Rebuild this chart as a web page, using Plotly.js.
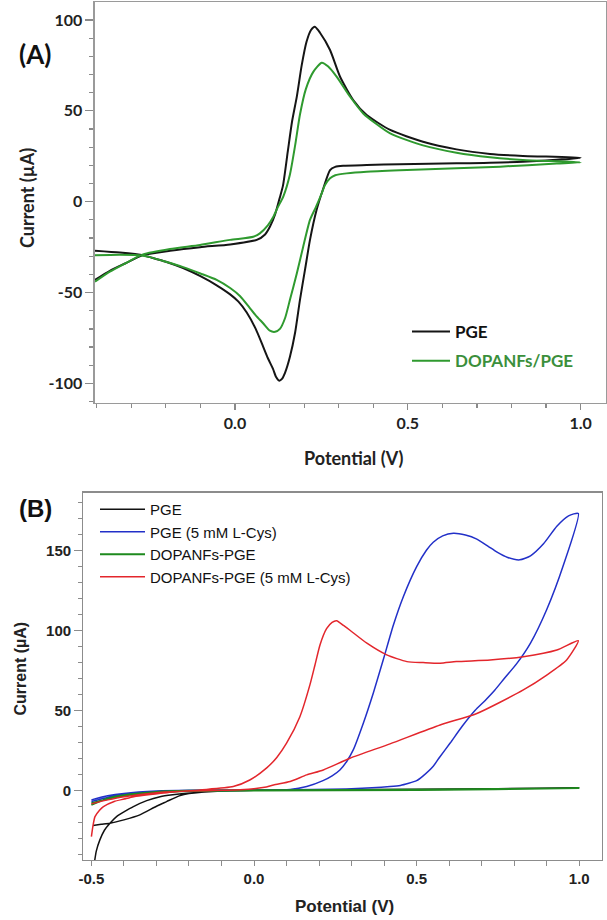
<!DOCTYPE html>
<html>
<head>
<meta charset="utf-8">
<script src="https://cdn.plot.ly/plotly-3.0.1.min.js"></script>
<style>
html,body{margin:0;padding:0;background:#fff;}
#chart{width:607px;height:920px;}
</style>
</head>
<body>
<div id="chart"></div>
<script>
// ---------- Panel A data (cyclic voltammograms) ----------
const A_PGE_x = [-0.405,-0.362,-0.318,-0.266,-0.188,-0.101,-0.014,0.063,0.087,0.101,0.116,0.130,0.139,0.153,0.165,0.179,0.193,0.207,0.220,0.231,0.246,0.275,0.304,0.342,0.381,0.449,0.544,0.641,0.738,0.833,1.0,
                 0.833,0.641,0.477,0.381,0.313,0.290,0.275,0.255,0.236,0.217,0.203,0.188,0.174,0.159,0.145,0.136,0.128,0.119,0.110,0.095,0.082,0.060,0.034,0.010,-0.014,-0.053,-0.100,-0.150,-0.200,-0.246,-0.265,-0.333,-0.405];
const A_PGE_y = [-43,-38,-34,-29.4,-27,-25,-23.5,-21,-18,-13.8,-7,2.5,9,28,44,58,75,88,94.5,96.3,93,83.5,68.8,56,47.7,39.5,33,28.8,26.3,25.2,24.2,
                 22,21.1,20.6,20.2,19.8,19.2,17.4,7,-4.6,-21,-37,-54,-72,-85.3,-94,-97.5,-98.5,-96.5,-92,-86,-80,-70,-61,-55,-51,-46,-41,-36.5,-33,-30.5,-29.5,-28,-27];
const A_DOPA_x = [-0.405,-0.362,-0.318,-0.266,-0.188,-0.101,-0.014,0.053,0.072,0.095,0.111,0.124,0.140,0.159,0.174,0.188,0.205,0.227,0.251,0.269,0.294,0.333,0.371,0.449,0.544,0.641,0.738,0.833,1.0,
                  0.931,0.767,0.641,0.477,0.381,0.323,0.290,0.275,0.260,0.251,0.234,0.217,0.197,0.179,0.159,0.145,0.130,0.116,0.101,0.082,0.060,0.043,0.015,-0.014,-0.053,-0.100,-0.150,-0.200,-0.246,-0.266,-0.333,-0.405];
const A_DOPA_y = [-44,-38.5,-34,-29,-26,-23.8,-21,-19.3,-17.4,-13,-8.3,-3,3,15,31,48,62,71.6,76.5,74.5,68.8,57.8,48.6,37.6,31,27,24.5,23,21.7,
                  21,19.3,18.4,17.3,16.5,15.6,14.6,12.9,9,4.6,-3,-10,-25,-39.4,-54,-64,-70,-71.6,-71,-67,-62.5,-58.5,-52,-47.5,-43,-39.5,-36,-33,-30.5,-29.7,-29.2,-29.5];
const A_names = ['PGE','DOPANFs/PGE'];
const A_xticks = [0, 0.5, 1.0];
const A_xticktext = ['0.0','0.5','1.0'];
const A_yticks = [-100,-50,0,50,100];
const A_yticktext = ['-100','-50','0','50','100'];

// ---------- Panel B data ----------
const B_PGE_x = [-0.492,-0.485,-0.474,-0.46,-0.443,-0.42,-0.40,-0.371,-0.33,-0.289,-0.25,-0.207,-0.1,0.0,0.25,0.5,0.75,1.0,
                 0.75,0.5,0.25,0.0,-0.1,-0.2,-0.23,-0.269,-0.30,-0.351,-0.40,-0.443,-0.47,-0.495];
const B_PGE_y = [-47,-38,-31,-25,-20.6,-16,-13.5,-10.2,-6.5,-4,-2.8,-1.9,-0.5,0,0.3,0.6,1.0,1.6,
                 1.0,0.4,0.1,0,-0.4,-2,-3.5,-7.1,-10,-15.4,-18.5,-20.6,-21.3,-22];
const B_PGECys_x = [-0.5,-0.45,-0.4,-0.3,-0.2,0.0,0.111,0.162,0.212,0.240,0.264,0.285,0.305,0.336,0.367,0.398,0.428,0.459,0.5,0.53,0.551,0.58,0.613,0.65,0.685,0.72,0.746,0.78,0.817,0.85,0.89,0.931,0.967,0.997,
                    0.95,0.9,0.85,0.807,0.77,0.74,0.71,0.68,0.64,0.603,0.57,0.551,0.52,0.5,0.45,0.418,0.3,0.0,-0.2,-0.3,-0.4,-0.45,-0.5];
const B_PGECys_y = [-7,-4.5,-2.5,-1,-0.5,0,0.4,2.3,6,9,12.7,18,25.2,41.9,61,82,103,121,139.8,150,155,159,160.6,159.5,157,152.5,149,145.5,144,146.5,154,165,171.5,173,
                    140,113,92,79,70,62.5,56,50,40,29.5,20.5,15,9,6,3,2.3,1,0.2,0,-0.5,-2,-3.5,-6];
const B_DOPA_x = [-0.5,-0.45,-0.4,-0.3,-0.2,0.0,0.5,1.0,0.5,0.0,-0.2,-0.3,-0.4,-0.45,-0.5];
const B_DOPA_y = [-9.2,-5,-3,-1,-0.3,0,0.4,1.3,0.1,-0.2,-0.6,-1.5,-3.5,-5.5,-8];
const B_DOPACys_x = [-0.5,-0.495,-0.489,-0.475,-0.463,-0.43,-0.4,-0.37,-0.268,-0.166,-0.064,-0.013,0.039,0.07,0.1,0.141,0.172,0.187,0.203,0.223,0.24,0.254,0.275,0.295,0.347,0.408,0.47,0.52,0.572,0.622,0.726,0.828,0.931,0.997,
                     0.961,0.9,0.828,0.685,0.572,0.418,0.295,0.213,0.162,0.111,0.06,0.038,-0.043,-0.1,-0.2,-0.3,-0.4,-0.45,-0.5];
const B_DOPACys_y = [-29,-22,-16.5,-12.5,-10.2,-7,-5.5,-4,-1.5,0.2,2.3,6.4,14,20.5,29.4,46,66,78,91,101,105,106,103,100,91.9,84.6,80.4,79.8,79.4,80.4,81.4,83.5,87.7,93.5,
                     81.4,72,62.7,48,40.8,29,20,12.7,9.6,5.5,3.3,2,0.3,0,-0.5,-1.5,-4,-6,-8.5];
const B_names = ['PGE','PGE (5 mM L-Cys)','DOPANFs-PGE','DOPANFs-PGE (5 mM L-Cys)'];
const B_xticks = [-0.5,0,0.5,1.0];
const B_xticktext = ['-0.5','0.0','0.5','1.0'];
const B_yticks = [0,50,100,150];
const B_yticktext = ['0','50','100','150'];

const FA = 'Lato, "Open Sans", sans-serif';
const FB = '"Liberation Sans", Arial, sans-serif';

const traces = [
  {x:A_PGE_x, y:A_PGE_y, name:A_names[0], type:'scatter', mode:'lines', xaxis:'x', yaxis:'y',
   line:{color:'#151515', width:2, shape:'spline', smoothing:0.6}, legend:'legend', legendgroup:'a1'},
  {x:A_DOPA_x, y:A_DOPA_y, name:'<span style="color:#3b8f3b">'+A_names[1]+'</span>', type:'scatter', mode:'lines', xaxis:'x', yaxis:'y',
   line:{color:'#2f9a2f', width:2, shape:'spline', smoothing:0.6}, legend:'legend', legendgroup:'a2'},
  {x:B_PGE_x, y:B_PGE_y, name:B_names[0], type:'scatter', mode:'lines', xaxis:'x2', yaxis:'y2',
   line:{color:'#111111', width:1.5, shape:'spline', smoothing:0.6}, legend:'legend2'},
  {x:B_PGECys_x, y:B_PGECys_y, name:B_names[1], type:'scatter', mode:'lines', xaxis:'x2', yaxis:'y2',
   line:{color:'#2230c8', width:1.5, shape:'spline', smoothing:0.6}, legend:'legend2'},
  {x:B_DOPA_x, y:B_DOPA_y, name:B_names[2], type:'scatter', mode:'lines', xaxis:'x2', yaxis:'y2',
   line:{color:'#1e8a1e', width:1.8, shape:'spline', smoothing:0.6}, legend:'legend2'},
  {x:B_DOPACys_x, y:B_DOPACys_y, name:B_names[3], type:'scatter', mode:'lines', xaxis:'x2', yaxis:'y2',
   line:{color:'#e3262c', width:1.5, shape:'spline', smoothing:0.6}, legend:'legend2'}
];

const axA = {showline:true, linecolor:'#9a9a9a', linewidth:1.5, mirror:true, showgrid:false, zeroline:false,
             ticks:'outside', tickcolor:'#8a8a8a', tickwidth:1.2,
             tickfont:{family:FA, size:16, color:'#222', weight:'bold'}};
const axB = {showline:true, linecolor:'#8c8c8c', linewidth:1.2, mirror:true, showgrid:false, zeroline:false,
             ticks:'outside', tickcolor:'#8c8c8c', tickwidth:1,
             tickfont:{family:FB, size:15, color:'#222', weight:'bold'}};

const layout = {
  width:607, height:920, margin:{l:0,r:0,t:0,b:0}, paper_bgcolor:'#fff', plot_bgcolor:'#fff',
  showlegend:true,
  xaxis: Object.assign({}, axA, {domain:[0.1565,0.9984], anchor:'y', range:[-0.405,1.0735],
    tickmode:'array', tickvals:A_xticks, ticktext:A_xticktext, ticklen:6,
    minor:{dtick:0.1, tick0:0, ticks:'outside', ticklen:4, tickcolor:'#8a8a8a'}}),
  yaxis: Object.assign({}, axA, {domain:[0.5623,0.9978], anchor:'x', range:[-110.6,109.9],
    tickmode:'array', tickvals:A_yticks, ticktext:A_yticktext, ticklen:8,
    minor:{dtick:10, tick0:0, ticks:'outside', ticklen:4, tickcolor:'#8a8a8a'}}),
  xaxis2: Object.assign({}, axB, {domain:[0.1372,0.9913], anchor:'y2', range:[-0.525,1.069],
    tickmode:'array', tickvals:B_xticks, ticktext:B_xticktext, ticklen:5,
    minor:{dtick:0.1, tick0:0, ticks:'outside', ticklen:5, tickcolor:'#8c8c8c'}}),
  yaxis2: Object.assign({}, axB, {domain:[0.0652,0.4645], anchor:'x2', range:[-43.6,186],
    tickmode:'array', tickvals:B_yticks, ticktext:B_yticktext, ticklen:8,
    minor:{dtick:10, tick0:0, ticks:'outside', ticklen:4, tickcolor:'#8c8c8c'}}),
  legend:{x:407/607, y:1-314/920, xanchor:'left', yanchor:'top', bgcolor:'rgba(0,0,0,0)',
    font:{family:FA, size:17, color:'#111', weight:'bold'}, itemwidth:38, tracegroupgap:4, traceorder:'grouped'},
  legend2:{x:95/607, y:1-493/920, xanchor:'left', yanchor:'top', bgcolor:'rgba(0,0,0,0)',
    font:{family:FB, size:15, color:'#111'}, itemwidth:45},
  annotations:[
    {text:'(A)', xref:'paper', yref:'paper', x:35/607, y:1-54/920, showarrow:false, xanchor:'center', yanchor:'middle',
     font:{family:FA, size:26, color:'#111', weight:'bold'}},
    {text:'Current (µA)', xref:'paper', yref:'paper', x:27/607, y:1-198/920, textangle:-90, showarrow:false, xanchor:'center', yanchor:'middle',
     font:{family:FA, size:18, color:'#222', weight:'bold'}},
    {text:'Potential (V)', xref:'paper', yref:'paper', x:353/607, y:1-458/920, showarrow:false, xanchor:'center', yanchor:'middle',
     font:{family:FA, size:18, color:'#222', weight:'bold'}},
    {text:'(B)', xref:'paper', yref:'paper', x:35/607, y:1-508/920, showarrow:false, xanchor:'center', yanchor:'middle',
     font:{family:FB, size:24, color:'#111', weight:'bold'}},
    {text:'Current (µA)', xref:'paper', yref:'paper', x:19.5/607, y:1-669/920, textangle:-90, showarrow:false, xanchor:'center', yanchor:'middle',
     font:{family:FB, size:16, color:'#222', weight:'bold'}},
    {text:'Potential (V)', xref:'paper', yref:'paper', x:344.5/607, y:1-906/920, showarrow:false, xanchor:'center', yanchor:'middle',
     font:{family:FB, size:17, color:'#222', weight:'bold'}}
  ]
};

Plotly.newPlot('chart', traces, layout, {staticPlot:true, displayModeBar:false});
</script>
</body>
</html>
